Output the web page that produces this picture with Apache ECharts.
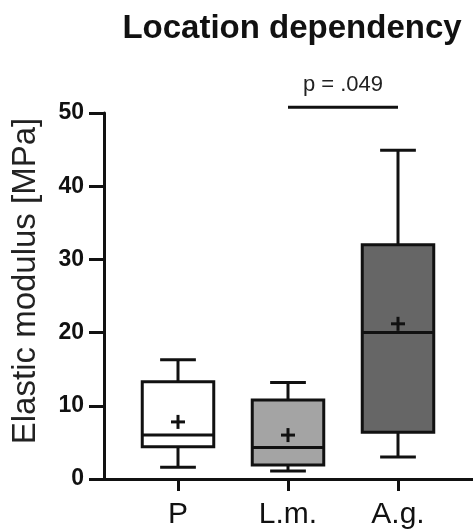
<!DOCTYPE html>
<html>
<head>
<meta charset="utf-8">
<script src="https://cdn.jsdelivr.net/npm/echarts@6/dist/echarts.min.js"></script>
<style>
html,body{margin:0;padding:0;background:#fff;}
#chart{width:473px;height:531px;}
</style>
</head>
<body>
<div id="chart"></div>
<script>
// ---- data ----
const categories = ['P', 'L.m.', 'A.g.'];
const whiskerLow  = [1.6, 1.1, 3.0];
const q1          = [4.4, 1.9, 6.4];
const median      = [6.0, 4.3, 20.0];
const q3          = [13.3, 10.8, 32.0];
const whiskerHigh = [16.3, 13.2, 44.9];
const means       = [7.8, 6.0, 21.2];
const yTicks      = [0, 10, 20, 30, 40, 50];
const sigPair     = ['L.m.', 'A.g.'];
const sigLevel    = 50.8;
const sigLabel    = 'p = .049';

// ---- styles ----
const boxFills = ['#ffffff', '#a4a4a4', '#666666'];
const ink = '#111111';
const lw = 3;

const boxData = categories.map((c, i) => [i, whiskerLow[i], q1[i], median[i], q3[i], whiskerHigh[i], means[i]]);
const sigData = [[categories.indexOf(sigPair[0]), categories.indexOf(sigPair[1]), sigLevel]];

const chart = echarts.init(document.getElementById('chart'));

function renderBox(params, api) {
  const x = api.value(0);
  const pLow = api.coord([x, api.value(1)]);
  const pQ1 = api.coord([x, api.value(2)]);
  const pMed = api.coord([x, api.value(3)]);
  const pQ3 = api.coord([x, api.value(4)]);
  const pHigh = api.coord([x, api.value(5)]);
  const pMean = api.coord([x, api.value(6)]);
  const band = api.size([1, 0])[0];
  const w = band * 0.65;
  const cx = pQ1[0];
  const cap = w / 4;
  const plus = 7;
  const ls = { stroke: ink, lineWidth: lw, fill: null };
  return {
    type: 'group',
    children: [
      { type: 'line', shape: { x1: cx, y1: pQ3[1], x2: cx, y2: pHigh[1] }, style: ls },
      { type: 'line', shape: { x1: cx - cap, y1: pHigh[1], x2: cx + cap, y2: pHigh[1] }, style: ls },
      { type: 'line', shape: { x1: cx, y1: pQ1[1], x2: cx, y2: pLow[1] }, style: ls },
      { type: 'line', shape: { x1: cx - cap, y1: pLow[1], x2: cx + cap, y2: pLow[1] }, style: ls },
      { type: 'rect', shape: { x: cx - w / 2, y: pQ3[1], width: w, height: pQ1[1] - pQ3[1] },
        style: { fill: boxFills[params.dataIndex], stroke: ink, lineWidth: lw } },
      { type: 'line', shape: { x1: cx - w / 2, y1: pMed[1], x2: cx + w / 2, y2: pMed[1] }, style: ls },
      { type: 'line', shape: { x1: cx - plus, y1: pMean[1], x2: cx + plus, y2: pMean[1] }, style: ls },
      { type: 'line', shape: { x1: cx, y1: pMean[1] - plus, x2: cx, y2: pMean[1] + plus }, style: ls }
    ]
  };
}

function renderSig(params, api) {
  const a = api.coord([api.value(0), api.value(2)]);
  const b = api.coord([api.value(1), api.value(2)]);
  return {
    type: 'group',
    children: [
      { type: 'line', shape: { x1: a[0], y1: a[1], x2: b[0], y2: b[1] }, style: { stroke: ink, lineWidth: 3 } },
      { type: 'text', style: { text: sigLabel, x: (a[0] + b[0]) / 2, y: a[1] - 11,
          align: 'center', verticalAlign: 'bottom',
          font: '22px "Liberation Sans", Arial, sans-serif', fill: '#222' } }
    ]
  };
}

chart.setOption({
  animation: false,
  backgroundColor: '#fff',
  title: {
    text: 'Location dependency',
    left: 287, top: 7, textAlign: 'center',
    textStyle: { fontFamily: '"Liberation Sans", Arial, sans-serif', fontWeight: 'bold', fontSize: 33, color: '#111' }
  },
  grid: [
    { left: 104, right: 0, top: 113, height: 366 },
    { left: 123, width: 330, top: 113, height: 366 }
  ],
  xAxis: [
    { type: 'value', gridIndex: 0, min: 0, max: 1,
      axisLine: { show: true, lineStyle: { color: ink, width: lw } },
      axisTick: { show: false }, axisLabel: { show: false }, splitLine: { show: false } },
    { type: 'category', gridIndex: 1, data: categories,
      axisLine: { show: false },
      axisTick: { show: true, alignWithLabel: true, length: 12, lineStyle: { color: ink, width: lw } },
      axisLabel: { margin: 21, fontSize: 30, color: '#111', fontFamily: '"Liberation Sans", Arial, sans-serif' },
      splitLine: { show: false } }
  ],
  yAxis: [
    { type: 'value', gridIndex: 0, min: yTicks[0], max: yTicks[yTicks.length - 1], interval: yTicks[1] - yTicks[0],
      name: 'Elastic modulus [MPa]', nameLocation: 'middle', nameGap: 62,
      nameTextStyle: { fontSize: 33, color: '#222', fontFamily: '"Liberation Sans", Arial, sans-serif', padding: [0, 0, 0, 30] },
      axisLine: { show: true, lineStyle: { color: ink, width: lw } },
      axisTick: { show: true, length: 15, lineStyle: { color: ink, width: lw } },
      axisLabel: { margin: 20, fontSize: 23, fontWeight: 'bold', color: '#111', fontFamily: '"Liberation Sans", Arial, sans-serif' },
      splitLine: { show: false } },
    { type: 'value', gridIndex: 1, min: 0, max: 50, show: false, splitLine: { show: false } }
  ],
  series: [
    { type: 'custom', xAxisIndex: 1, yAxisIndex: 1, data: boxData, renderItem: renderBox, clip: false },
    { type: 'custom', xAxisIndex: 1, yAxisIndex: 1, data: sigData, renderItem: renderSig, clip: false }
  ]
});
</script>
</body>
</html>
